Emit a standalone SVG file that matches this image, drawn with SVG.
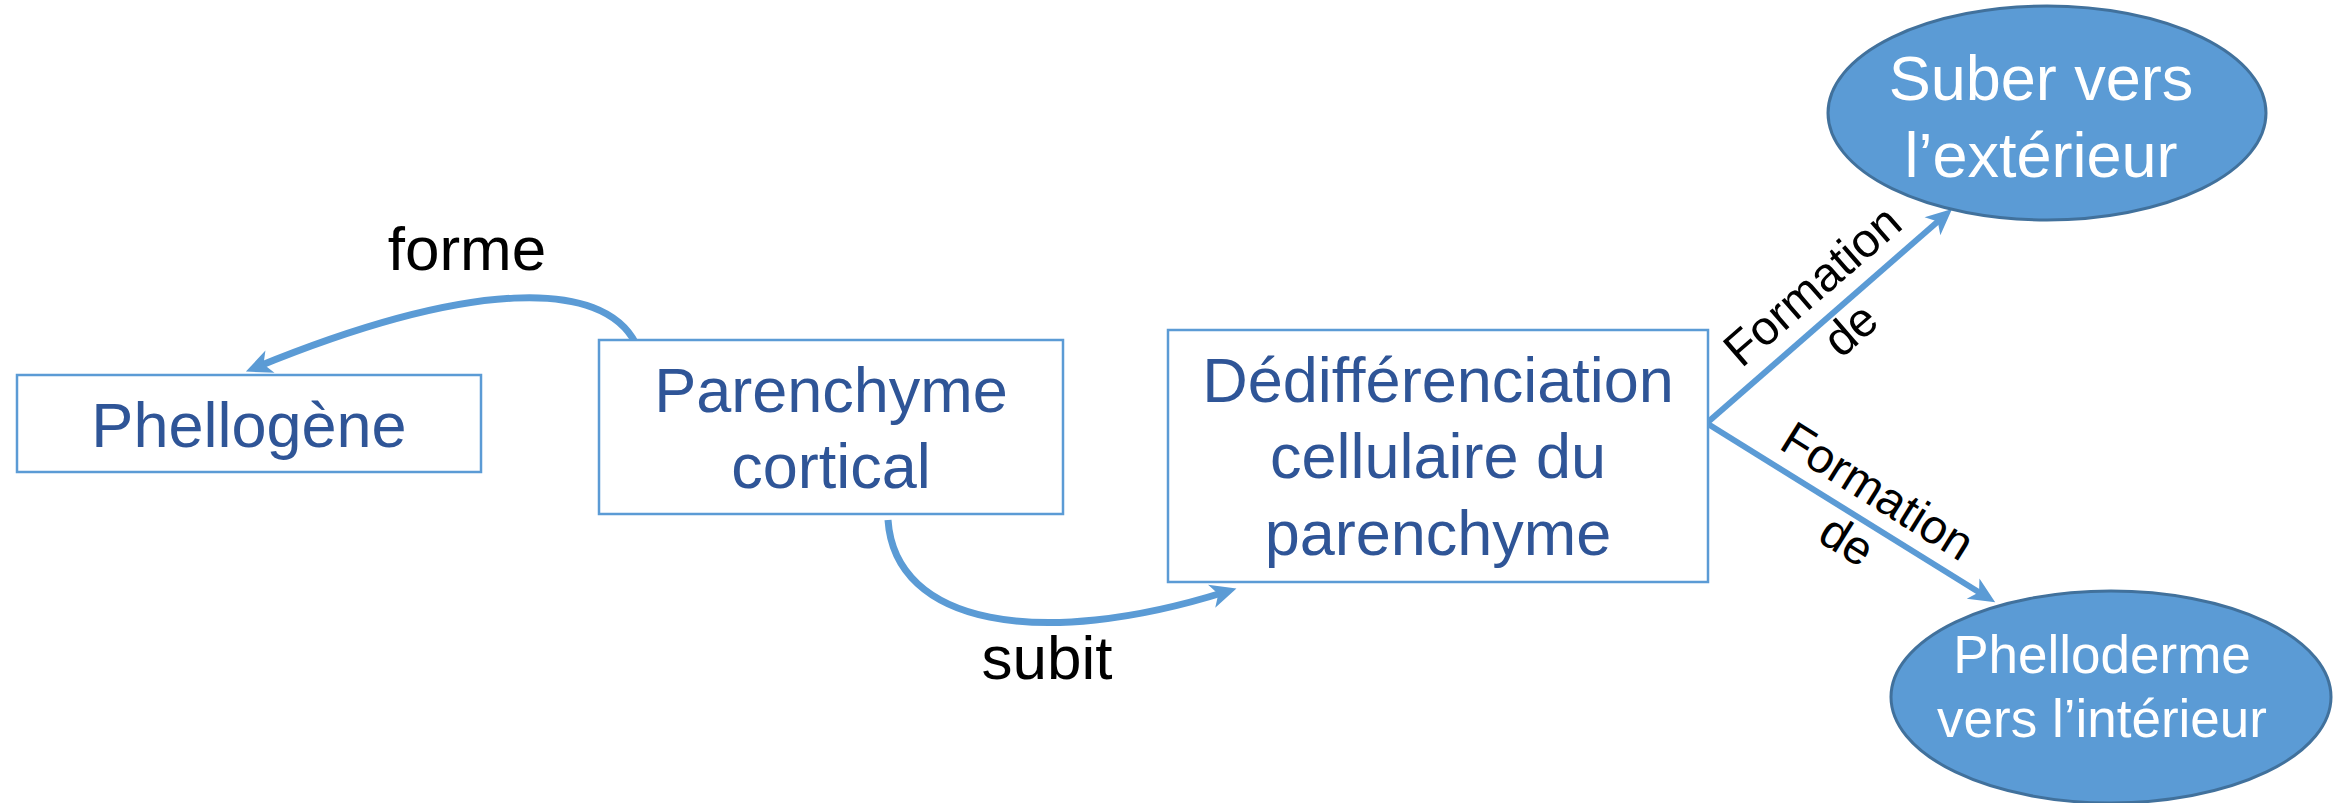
<svg xmlns="http://www.w3.org/2000/svg" width="2335" height="803" viewBox="0 0 2335 803">
<style>
.box{fill:#ffffff;stroke:#5B9BD5;stroke-width:2.5}
.ell{fill:#5B9BD5;stroke:#41719C;stroke-width:3}
.bt{font-family:"Liberation Sans",Arial,sans-serif;font-size:63px;fill:#2F5597;text-anchor:middle}
.et{font-family:"Liberation Sans",Arial,sans-serif;fill:#ffffff;text-anchor:middle}
.lbl{font-family:"Liberation Sans",Arial,sans-serif;fill:#000000;text-anchor:middle}
.con{fill:none;stroke:#5B9BD5;stroke-linecap:butt}
</style>
<defs>
<marker id="ah" markerUnits="userSpaceOnUse" viewBox="-20 -16 36 32" markerWidth="36" markerHeight="32" refX="0" refY="0" orient="auto">
<path d="M12,0 L-14,-12 L-7,0 L-14,12 Z" fill="#5B9BD5"/>
</marker>
</defs>
<rect width="2335" height="803" fill="#ffffff"/>
<g id="connectors">
<path class="con" stroke-width="7" d="M636,344 C603,278 470,280 257,367" marker-end="url(#ah)"/>
<path class="con" stroke-width="7" d="M888,520 C895,625 1040,650 1225,592" marker-end="url(#ah)"/>
<path class="con" stroke-width="6" d="M1708,422 L1943,217" marker-end="url(#ah)"/>
<path class="con" stroke-width="6" d="M1708,424 L1985,596" marker-end="url(#ah)"/>
<g id="label-forme"><text class="lbl" x="467" y="270" font-size="62">forme</text></g>
<g id="label-subit"><text class="lbl" x="1047" y="679" font-size="62">subit</text></g>
<g id="label-formation-haut" transform="translate(1823,298) rotate(-41)">
<text class="lbl" x="0" y="0" font-size="48">Formation</text>
<text class="lbl" x="0" y="58" font-size="48">de</text>
</g>
<g id="label-formation-bas" transform="translate(1869,505) rotate(32)">
<text class="lbl" x="0" y="0" font-size="48">Formation</text>
<text class="lbl" x="0" y="58" font-size="48">de</text>
</g>
</g>
<g id="phellogene">
<rect class="box" x="17" y="375" width="464" height="97"/>
<text class="bt" x="249" y="447">Phellogène</text>
</g>
<g id="parenchyme-cortical">
<rect class="box" x="599" y="340" width="464" height="174"/>
<text class="bt" x="831" y="412">Parenchyme</text>
<text class="bt" x="831" y="488">cortical</text>
</g>
<g id="dedifferenciation">
<rect class="box" x="1168" y="330" width="540" height="252"/>
<text class="bt" x="1438" y="402">Dédifférenciation</text>
<text class="bt" x="1438" y="478">cellulaire du</text>
<text class="bt" x="1438" y="555">parenchyme</text>
</g>
<g id="suber">
<ellipse class="ell" cx="2047" cy="113" rx="219" ry="107"/>
<text class="et" x="2041" y="100" font-size="63">Suber vers</text>
<text class="et" x="2041" y="177" font-size="63">l’extérieur</text>
</g>
<g id="phelloderme">
<ellipse class="ell" cx="2111" cy="697" rx="220" ry="106"/>
<text class="et" x="2102" y="673" font-size="53">Phelloderme</text>
<text class="et" x="2102" y="737" font-size="53">vers l’intérieur</text>
</g>
</svg>
